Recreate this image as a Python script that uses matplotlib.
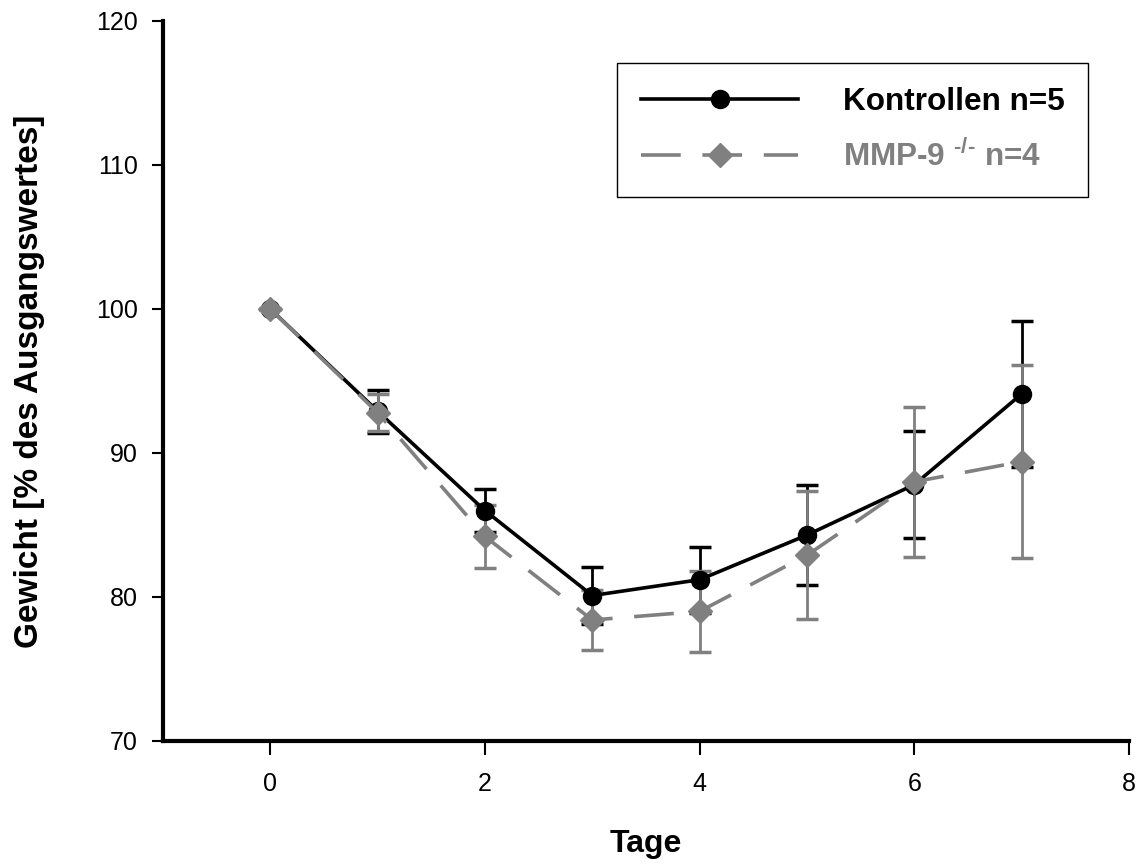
"""
Gewichtsverlauf Kontrollen vs. MMP-9 -/- Maeuse
"""
import matplotlib
matplotlib.use('Agg')
from matplotlib import pyplot as plt

plt.rcParams['font.family'] = ['Liberation Sans', 'DejaVu Sans']
plt.rcParams['mathtext.fontset'] = 'custom'
plt.rcParams['mathtext.rm'] = 'Liberation Sans:bold'
plt.rcParams['mathtext.bf'] = 'Liberation Sans:bold'

# Tage und Mittelwerte / Fehler
days = [0, 1, 2, 3, 4, 5, 6, 7]
ctrl_mean = [100, 92.9, 86.0, 80.1, 81.2, 84.3, 87.8, 94.1]
ctrl_err = [0, 1.5, 1.5, 2.0, 2.3, 3.5, 3.7, 5.1]
mmp_mean = [100, 92.8, 84.2, 78.4, 79.0, 82.9, 88.0, 89.4]
mmp_err = [0, 1.3, 2.2, 2.1, 2.8, 4.45, 5.2, 6.7]

ctrl_label = 'Kontrollen n=5'
mmp_label = r'MMP-9 $^{\text{-/-}}$ n=4'
gray = '#808080'

fig = plt.figure(figsize=(11.42, 8.64), dpi=100)
ax = fig.add_axes([0.1427, 0.1424, 0.8459, 0.8333])

# error bars first, lines + markers on top
ax.errorbar(days, ctrl_mean, yerr=ctrl_err, fmt='none', ecolor='black',
            elinewidth=2, capsize=8, capthick=2.5, zorder=2)
ax.errorbar(days, mmp_mean, yerr=mmp_err, fmt='none', ecolor=gray,
            elinewidth=2, capsize=8, capthick=2.5, zorder=3)
l1, = ax.plot(days, ctrl_mean, color='black', linewidth=2.6, marker='o',
              markersize=13, label=ctrl_label, zorder=4)
l2, = ax.plot(days, mmp_mean, color=gray, linewidth=2.6, marker='D',
              markersize=12, dashes=(11, 6), label=mmp_label, zorder=5)

ax.set_xlim(-1, 8)
ax.set_ylim(70, 120)
ax.set_xticks([0, 2, 4, 6, 8])
ax.set_yticks([70, 80, 90, 100, 110, 120])

for s in ['top', 'right']:
    ax.spines[s].set_visible(False)
for s in ['left', 'bottom']:
    ax.spines[s].set_linewidth(3)
ax.tick_params(axis='both', direction='out', length=8, width=1.5,
               labelsize=18, pad=10)
ax.tick_params(axis='x', length=10, pad=12)

ax.set_xlabel('Tage', fontsize=23, fontweight='bold', labelpad=24)
ax.set_ylabel('Gewicht [% des Ausgangswertes]', fontsize=24,
              fontweight='bold', labelpad=37)

leg = ax.legend(handles=[l1, l2], loc='upper right',
                bbox_to_anchor=(0.9576, 0.9417),
                prop={'weight': 'bold', 'size': 22.7},
                handlelength=5.0, handletextpad=1.4, labelspacing=0.75,
                borderpad=0.75, borderaxespad=0, fancybox=False,
                framealpha=1, edgecolor='black')
leg.get_frame().set_linewidth(1)
leg.get_texts()[0].set_color('black')
leg.get_texts()[1].set_color(gray)

plt.savefig('out.png', dpi=100)
